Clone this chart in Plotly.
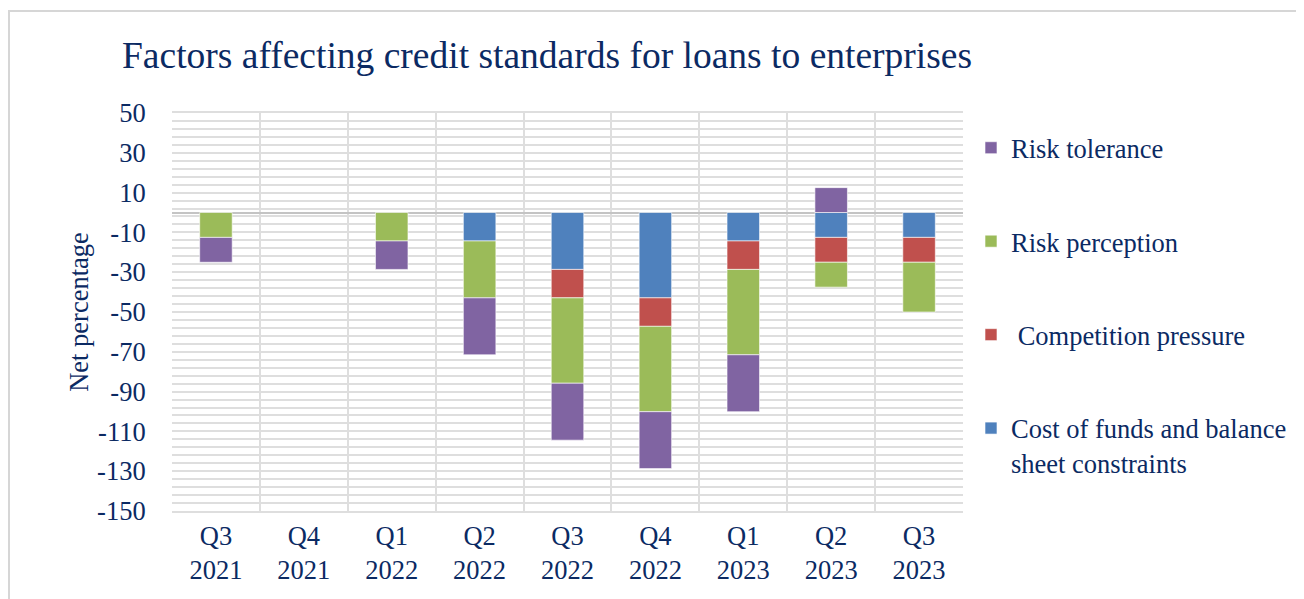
import plotly.graph_objects as go

categories = ["Q3<br>2021", "Q4<br>2021", "Q1<br>2022", "Q2<br>2022", "Q3<br>2022",
              "Q4<br>2022", "Q1<br>2023", "Q2<br>2023", "Q3<br>2023"]
cost_of_funds = [None, None, None, -14.3, -28.6, -42.9, -14.3, -12.5, -12.5]
competition = [None, None, None, None, -14.3, -14.3, -14.3, -12.5, -12.5]
risk_perception = [-12.5, None, -14.3, -28.6, -42.9, -42.9, -42.9, -12.5, -25.0]
risk_tolerance = [-12.5, None, -14.3, -28.6, -28.6, -28.6, -28.6, 12.5, None]
y_tick_values = [50, 30, 10, -10, -30, -50, -70, -90, -110, -130, -150]
y_tick_labels = ["50", "30", "10", "-10", "-30", "-50", "-70", "-90", "-110", "-130", "-150"]

series = [
    ("Cost of funds and balance<br>sheet constraints", cost_of_funds, "#4F81BD", 4),
    ("\u00a0Competition pressure", competition, "#C0504D", 3),
    ("Risk perception", risk_perception, "#9BBB59", 2),
    ("Risk tolerance", risk_tolerance, "#8064A2", 1),
]

TXT = "#0B2A63"
FONT = "Liberation Serif, Times New Roman, serif"
GRID = "#DEDEDE"
FS = 26.5

fig = go.Figure()
for name, vals, color, rank in series:
    fig.add_trace(go.Bar(
        x=categories, y=vals, name=name,
        marker=dict(color=color, line=dict(color="rgba(255,255,255,0.6)", width=1)),
        width=0.37, legendgroup=name, legendrank=rank,
    ))

W, H = 1304, 599
OFF = 8
L, R, T, B = 172 - OFF, 963 - OFF, 113 - OFF, 511 - OFF
pw, ph = R - L, B - T

def px(x):
    return (x - OFF - L) / pw

def py(y):
    return (B - (y - OFF)) / ph

fig.update_layout(
    width=W, height=H,
    margin=dict(l=L, r=W - R, t=T, b=H - B),
    barmode="relative",
    paper_bgcolor="white", plot_bgcolor="white",
    font=dict(family=FONT, color=TXT, size=FS),
    title=dict(text="Factors affecting credit standards for loans to enterprises",
               x=(122 - OFF) / W, xref="container", xanchor="left",
               y=1 - (55 - OFF) / H, yref="container", yanchor="middle",
               font=dict(size=37.5, color=TXT, family=FONT)),
    showlegend=True,
    legend=dict(x=px(971), xanchor="left", y=py(124), yanchor="top",
                traceorder="grouped", tracegroupgap=56, valign="top",
                font=dict(size=FS, color=TXT, family=FONT),
                bgcolor="rgba(0,0,0,0)"),
    xaxis=dict(type="category", tickson="boundaries", showgrid=True,
               gridcolor=GRID, gridwidth=2, ticks="outside", ticklen=22,
               tickcolor="rgba(0,0,0,0)", showline=True, linecolor=GRID,
               linewidth=2, mirror=True, tickfont=dict(size=FS),
               range=[-0.5, 8.5]),
    yaxis=dict(range=[-150, 50], tickmode="array", tickvals=y_tick_values,
               ticktext=y_tick_labels, showgrid=True,
               gridcolor=GRID, gridwidth=2,
               minor=dict(dtick=4, tick0=50, showgrid=True, gridcolor=GRID, gridwidth=2),
               zeroline=True, zerolinecolor="#C4C4C4", zerolinewidth=2,
               ticks="outside", ticklen=20, tickcolor="rgba(0,0,0,0)",
               tickfont=dict(size=FS),
               title=dict(text="Net percentage", font=dict(size=FS), standoff=0)),
    shapes=[dict(type="rect", xref="paper", yref="paper",
                 x0=px(OFF + 1), x1=px(1302), y0=py(640), y1=py(11),
                 line=dict(color="#D6D6D6", width=2), layer="below")],
)

fig.write_html("out.html")
